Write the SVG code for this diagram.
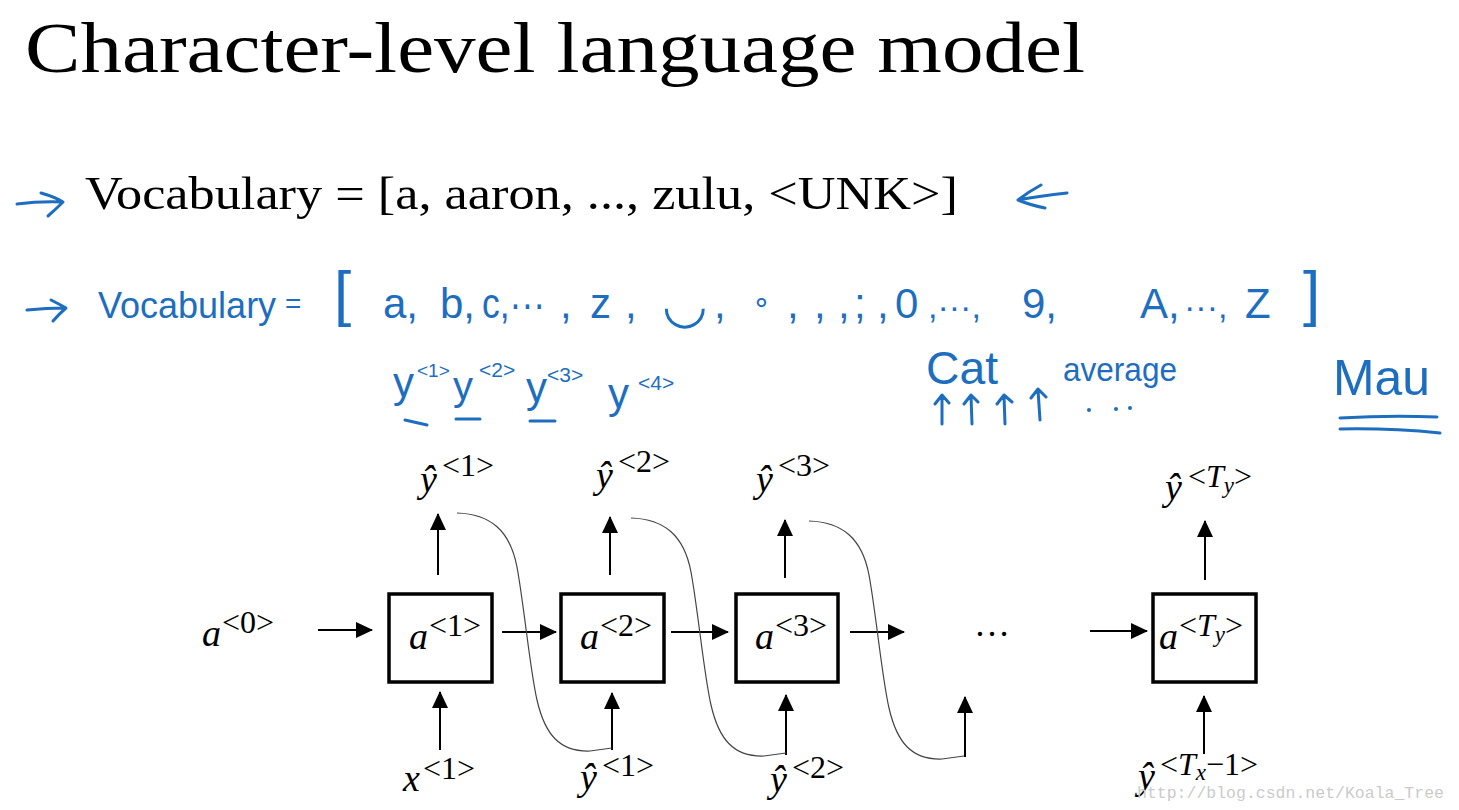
<svg xmlns="http://www.w3.org/2000/svg" width="1459" height="810" viewBox="0 0 1459 810">
<defs>
<style>
.title{font-family:"Liberation Serif",serif;fill:#000}
.mv{font-family:"Liberation Serif",serif;font-style:italic;font-size:38px;fill:#000}
.sup{font-family:"Liberation Serif",serif;font-size:32px;fill:#000}
.supi{font-family:"Liberation Serif",serif;font-style:italic;font-size:32px;fill:#000}
.sub{font-family:"Liberation Serif",serif;font-style:italic;font-size:23px;fill:#000}
.box{fill:#fff;stroke:#000;stroke-width:3.5}
.ln{stroke:#000;stroke-width:2;fill:none}
.cv{stroke:#444;stroke-width:1.2;fill:none}
.hw{font-family:"Liberation Sans","DejaVu Sans",sans-serif;fill:#1e6ec0}
.hws{stroke:#1e6ec0;stroke-width:3;fill:none;stroke-linecap:round;stroke-linejoin:round}
.wm{font-family:"Liberation Mono",monospace;font-size:16.5px;fill:#cbcbcb}
</style>
<marker id="ah" markerUnits="userSpaceOnUse" markerWidth="18" markerHeight="16" refX="16" refY="8" orient="auto">
<path d="M0,0 L17,8 L0,16 z" fill="#000"/>
</marker>
</defs>
<rect width="1459" height="810" fill="#fff"/>

<g id="title">
<text class="title" x="25" y="72" font-size="72" textLength="1060" lengthAdjust="spacingAndGlyphs">Character-level language model</text>
</g>

<g id="vocab-word">
<path class="hws" d="M17,204 Q40,201 63,202 M41,193 Q55,197 63,202 Q56,209 48,216"/>
<text class="title" x="85" y="209" font-size="46" textLength="873" lengthAdjust="spacingAndGlyphs">Vocabulary = [a, aaron, ..., zulu, &lt;UNK&gt;]</text>
<path class="hws" d="M1067,193 Q1040,196 1018,200 M1041,185 Q1028,192 1018,200 Q1030,205 1045,208"/>
</g>

<g id="vocab-char">
<path class="hws" d="M27,310 Q46,308 66,308 M51,300 Q59,304 66,308 Q59,314 53,321"/>
<text class="hw" x="98" y="318" font-size="36">Vocabulary</text>
<text class="hw" x="285" y="313" font-size="28">=</text>
<text class="hw" x="334" y="314" font-size="62">[</text>
<text class="hw" x="383" y="318" font-size="42">a,</text>
<text class="hw" x="440" y="318" font-size="42">b,</text>
<text class="hw" x="482" y="318" font-size="42" textLength="63" lengthAdjust="spacingAndGlyphs">c,···</text>
<text class="hw" x="560" y="318" font-size="42">,</text>
<text class="hw" x="590" y="318" font-size="42">z</text>
<text class="hw" x="625" y="318" font-size="42">,</text>
<text class="hw" x="662" y="322" font-size="52">◡</text>
<text class="hw" x="714" y="318" font-size="42">,</text>
<text class="hw" x="752" y="312" font-size="30">∘</text>
<text class="hw" x="787" y="318" font-size="42">,</text>
<text class="hw" x="814" y="318" font-size="42">,</text>
<text class="hw" x="838" y="318" font-size="42">,</text>
<text class="hw" x="854" y="318" font-size="42">;</text>
<text class="hw" x="877" y="318" font-size="42">,</text>
<text class="hw" x="895" y="318" font-size="42">0</text>
<text class="hw" x="928" y="318" font-size="34">,···,</text>
<text class="hw" x="1022" y="318" font-size="42">9,</text>
<text class="hw" x="1140" y="318" font-size="42">A,</text>
<text class="hw" x="1184" y="318" font-size="34">···,</text>
<text class="hw" x="1245" y="318" font-size="42">Z</text>
<text class="hw" x="1303" y="314" font-size="62">]</text>
</g>

<g id="note-y">
<text class="hw" x="393" y="397" font-size="42">y</text>
<text class="hw" x="417" y="377" font-size="19">&lt;1&gt;</text>
<text class="hw" x="453" y="400" font-size="40">y</text>
<text class="hw" x="479" y="377" font-size="21">&lt;2&gt;</text>
<text class="hw" x="526" y="402" font-size="42">y</text>
<text class="hw" x="547" y="382" font-size="21">&lt;3&gt;</text>
<text class="hw" x="608" y="408" font-size="42">y</text>
<text class="hw" x="638" y="390" font-size="21">&lt;4&gt;</text>
<path class="hws" d="M405,420 L427,425 M456,419 L480,419 M530,421 L555,421"/>
</g>

<g id="note-cat">
<text class="hw" x="926" y="384" font-size="46" textLength="72" lengthAdjust="spacingAndGlyphs">Cat</text>
<path class="hws" d="M942,424 L942,396 M935,404 L942,395 L949,403 M972,424 L971,396 M964,404 L971,395 L978,402 M1005,424 L1004,396 M997,404 L1004,395 L1012,402 M1040,420 L1038,390 M1031,398 L1038,389 L1046,397"/>
<text class="hw" x="1063" y="381" font-size="34" textLength="114" lengthAdjust="spacingAndGlyphs">average</text>
<circle cx="1089" cy="410" r="2" fill="#1e6ec0"/>
<circle cx="1116" cy="409" r="2" fill="#1e6ec0"/>
<circle cx="1130" cy="408" r="2" fill="#1e6ec0"/>
</g>

<g id="note-mau">
<text class="hw" x="1333" y="395" font-size="50" textLength="97" lengthAdjust="spacingAndGlyphs">Mau</text>
<path class="hws" d="M1340,418 Q1390,415 1437,417 M1340,429 Q1390,428 1440,433"/>
</g>

<g id="connectors">
<line class="ln" x1="318" y1="630" x2="372" y2="630" marker-end="url(#ah)"/>
<line class="ln" x1="502" y1="632" x2="556" y2="632" marker-end="url(#ah)"/>
<line class="ln" x1="671" y1="632" x2="728" y2="632" marker-end="url(#ah)"/>
<line class="ln" x1="850" y1="632" x2="904" y2="632" marker-end="url(#ah)"/>
<line class="ln" x1="1090" y1="631" x2="1147" y2="631" marker-end="url(#ah)"/>
<line class="ln" x1="438" y1="575" x2="438" y2="514" marker-end="url(#ah)"/>
<line class="ln" x1="610" y1="575" x2="610" y2="517" marker-end="url(#ah)"/>
<line class="ln" x1="785" y1="578" x2="785" y2="520" marker-end="url(#ah)"/>
<line class="ln" x1="1205" y1="580" x2="1205" y2="521" marker-end="url(#ah)"/>
<line class="ln" x1="440" y1="750" x2="440" y2="692" marker-end="url(#ah)"/>
<line class="ln" x1="612" y1="750" x2="612" y2="693" marker-end="url(#ah)"/>
<line class="ln" x1="786" y1="755" x2="786" y2="695" marker-end="url(#ah)"/>
<line class="ln" x1="965" y1="757" x2="965" y2="697" marker-end="url(#ah)"/>
<line class="ln" x1="1204" y1="754" x2="1204" y2="696" marker-end="url(#ah)"/>
<path class="cv" d="M457,513 C490,514 510,530 517,567 C524,605 530,670 537,700 C545,735 560,752 590,751 L612,748"/>
<path class="cv" transform="translate(174,5)" d="M457,513 C490,514 510,530 517,567 C524,605 530,670 537,700 C545,735 560,752 590,751 L612,748"/>
<path class="cv" transform="translate(352,8)" d="M457,513 C490,514 510,530 517,567 C524,605 530,670 537,700 C545,735 560,752 590,751 L612,748"/>
</g>

<g id="a0">
<text class="mv" x="202" y="646">a</text><text class="sup" x="222" y="633">&lt;0&gt;</text>
</g>

<g id="cell1">
<rect class="box" x="389" y="594" width="103" height="88"/>
<text class="mv" x="409" y="649">a</text><text class="sup" x="429" y="636">&lt;1&gt;</text>
</g>
<g id="cell2">
<rect class="box" x="561" y="594" width="103" height="88"/>
<text class="mv" x="580" y="649">a</text><text class="sup" x="600" y="636">&lt;2&gt;</text>
</g>
<g id="cell3">
<rect class="box" x="736" y="594" width="102" height="88"/>
<text class="mv" x="755" y="649">a</text><text class="sup" x="775" y="636">&lt;3&gt;</text>
</g>
<g id="ellipsis">
<text class="title" x="974" y="636" font-size="36">…</text>
</g>
<g id="cellTy">
<rect class="box" x="1153" y="594" width="103" height="88"/>
<text class="mv" x="1159" y="649">a</text><text class="sup" x="1179" y="636">&lt;<tspan class="supi">T</tspan><tspan class="sub" dy="6">y</tspan><tspan dy="-6">&gt;</tspan></text>
</g>

<g id="yhat1">
<text class="mv" x="420" y="492">ŷ</text><text class="sup" x="442" y="476">&lt;1&gt;</text>
</g>
<g id="yhat2">
<text class="mv" x="596" y="488">ŷ</text><text class="sup" x="618" y="472">&lt;2&gt;</text>
</g>
<g id="yhat3">
<text class="mv" x="756" y="492">ŷ</text><text class="sup" x="778" y="476">&lt;3&gt;</text>
</g>
<g id="yhatTy">
<text class="mv" x="1165" y="500">ŷ</text><text class="sup" x="1188" y="487">&lt;<tspan class="supi">T</tspan><tspan class="sub" dy="6">y</tspan><tspan dy="-6">&gt;</tspan></text>
</g>

<g id="x1">
<text class="mv" x="403" y="791">x</text><text class="sup" x="423" y="779">&lt;1&gt;</text>
</g>
<g id="in-yhat1">
<text class="mv" x="580" y="790">ŷ</text><text class="sup" x="602" y="776">&lt;1&gt;</text>
</g>
<g id="in-yhat2">
<text class="mv" x="770" y="792">ŷ</text><text class="sup" x="792" y="778">&lt;2&gt;</text>
</g>
<g id="in-yhatTx">
<text class="mv" x="1138" y="789">ŷ</text><text class="sup" x="1160" y="775">&lt;<tspan class="supi">T</tspan><tspan class="sub" dy="5">x</tspan><tspan dy="-5">−1&gt;</tspan></text>
</g>

<g id="watermark">
<text class="wm" x="1137" y="798">http://blog.csdn.net/Koala_Tree</text>
</g>
</svg>
